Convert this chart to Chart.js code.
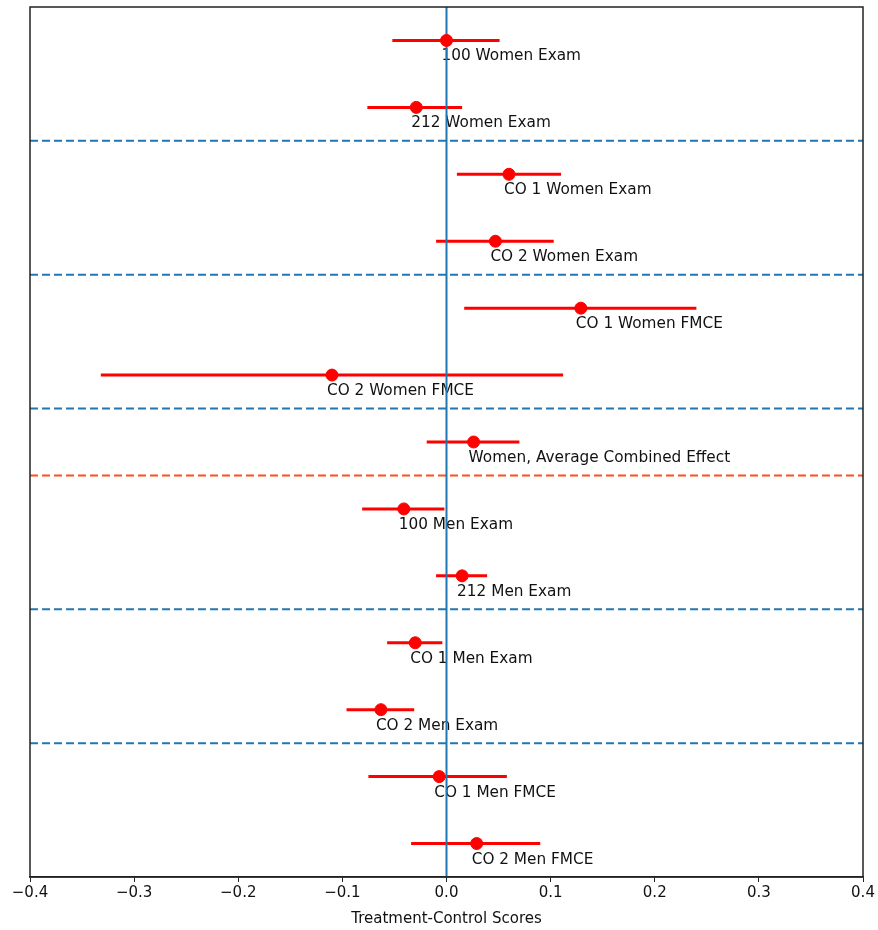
<!DOCTYPE html>
<html>
<head>
<meta charset="utf-8">
<script src="https://cdn.jsdelivr.net/npm/chart.js@4.4.0/dist/chart.umd.min.js"></script>
<style>
  html, body { margin: 0; padding: 0; background: #fff; }
  #wrap { width: 878px; height: 930px; }
</style>
</head>
<body>
<div id="wrap"><canvas id="forest"></canvas></div>
<script>
// rows from top to bottom
const STUDIES = [
    "100 Women Exam",
    "212 Women Exam",
    "CO 1 Women Exam",
    "CO 2 Women Exam",
    "CO 1 Women FMCE",
    "CO 2 Women FMCE",
    "Women, Average Combined Effect",
    "100 Men Exam",
    "212 Men Exam",
    "CO 1 Men Exam",
    "CO 2 Men Exam",
    "CO 1 Men FMCE",
    "CO 2 Men FMCE",
];
const EFFECTS = [0.000, -0.029, 0.060, 0.047, 0.129, -0.110, 0.026, -0.041, 0.015, -0.030, -0.063, -0.007, 0.029];
const LOWER   = [-0.052, -0.076, 0.010, -0.010, 0.017, -0.332, -0.019, -0.081, -0.010, -0.057, -0.096, -0.075, -0.034];
const UPPER   = [0.051, 0.015, 0.110, 0.103, 0.240, 0.112, 0.070, -0.002, 0.039, -0.004, -0.031, 0.058, 0.090];

// group separators (between rows), the orange one splits women from men
const GROUP_BREAKS = [1.5, 3.5, 5.5, 8.5, 10.5];
const SEX_BREAK = 6.5;

const X_TICKS = [-0.4, -0.3, -0.2, -0.1, 0.0, 0.1, 0.2, 0.3, 0.4];

const BLUE = "#1f77b4";
const FONT = "'DejaVu Sans', sans-serif";

const datasets = [];

// error bars
STUDIES.forEach((name, i) => {
    datasets.push({
        type: 'line',
        data: [{x: LOWER[i], y: i}, {x: UPPER[i], y: i}],
        borderColor: "red",
        borderWidth: 3,
        pointRadius: 0,
        order: 4,
    });
});

GROUP_BREAKS.forEach(y => {
    datasets.push({
        type: 'line',
        data: [{x: -0.4, y}, {x: 0.4, y}],
        borderColor: BLUE,
        borderWidth: 2,
        borderDash: [8, 4],
        pointRadius: 0,
        order: 3,
    });
});
datasets.push({
    type: 'line',
    data: [{x: -0.4, y: SEX_BREAK}, {x: 0.4, y: SEX_BREAK}],
    borderColor: "#ff4f1f",
    borderWidth: 2,
    borderDash: [8, 4],
    pointRadius: 0,
    order: 3,
});

// zero line
datasets.push({
    type: 'line',
    data: [{x: 0, y: -0.5}, {x: 0, y: STUDIES.length - 0.5}],
    borderColor: BLUE,
    borderWidth: 2,
    pointRadius: 0,
    order: 2,
});

datasets.push({
    type: 'scatter',
    data: EFFECTS.map((v, i) => ({x: v, y: i})),
    backgroundColor: "red",
    borderColor: "red",
    pointRadius: 6,
    pointHoverRadius: 6,
    order: 1,
});

const studyLabels = {
    id: 'studyLabels',
    beforeDatasetsDraw(chart) {
        const {ctx, scales: {x, y}} = chart;
        ctx.save();
        ctx.font = `15.3px ${FONT}`;
        ctx.fillStyle = "#111";
        ctx.textAlign = "left";
        ctx.textBaseline = "alphabetic";
        STUDIES.forEach((name, i) => {
            ctx.fillText(name, x.getPixelForValue(EFFECTS[i]) - 5, y.getPixelForValue(i) + 20);
        });
        ctx.restore();
    },
    afterDraw(chart) {
        const {ctx, chartArea: a} = chart;
        ctx.save();
        ctx.strokeStyle = "#222";
        ctx.lineWidth = 1.5;
        ctx.strokeRect(a.left, a.top, a.right - a.left, a.bottom - a.top);
        ctx.restore();
    }
};

new Chart(document.getElementById('forest'), {
    data: {datasets},
    options: {
        responsive: true,
        maintainAspectRatio: false,
        animation: false,
        events: [],
        layout: {padding: {left: 30, right: 15, top: 6, bottom: 2}},
        plugins: {
            legend: {display: false},
            tooltip: {enabled: false},
        },
        scales: {
            x: {
                type: 'linear',
                min: -0.4,
                max: 0.4,
                afterBuildTicks(axis) {
                    axis.ticks = X_TICKS.map(value => ({value}));
                },
                ticks: {
                    color: "#111",
                    font: {family: FONT, size: 15},
                    padding: 2,
                    maxRotation: 0,
                    callback(val) {
                        const s = Math.abs(val).toFixed(1);
                        return val < -1e-9 ? "\u2212" + s : s;
                    },
                },
                grid: {
                    drawOnChartArea: false,
                    drawTicks: true,
                    tickLength: 5,
                    color: "#222",
                },
                border: {color: "#222", width: 1.5},
                title: {
                    display: true,
                    text: "Treatment-Control Scores",
                    color: "#111",
                    font: {family: FONT, size: 15},
                    padding: {top: 6, bottom: 0},
                },
            },
            y: {
                type: 'linear',
                reverse: true,
                min: -0.5,
                max: STUDIES.length - 0.5,
                display: false,
            },
        },
    },
    plugins: [studyLabels],
});
</script>
</body>
</html>
